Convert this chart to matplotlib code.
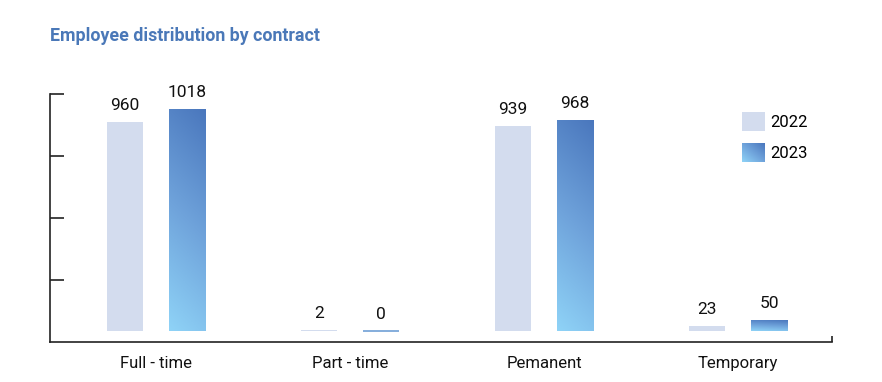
import numpy as np
import matplotlib
matplotlib.use("Agg")
import matplotlib.pyplot as plt
from matplotlib.colors import LinearSegmentedColormap
from matplotlib.legend_handler import HandlerBase
from matplotlib.image import BboxImage
from matplotlib.transforms import Bbox, TransformedBbox
from matplotlib.patches import Patch

plt.rcParams['font.family'] = ['Roboto', 'DejaVu Sans']

categories = ["Full - time", "Part - time", "Pemanent", "Temporary"]
years = ["2022", "2023"]
values_2022 = [960, 2, 939, 23]
values_2023 = [1018, 0, 968, 50]
title = "Employee distribution by contract"

c2022 = "#d3dcee"
cmap = LinearSegmentedColormap.from_list("blu", ["#8fd3f7", "#6fa3db", "#4a77bd"])

W, H = 882, 382
fig = plt.figure(figsize=(W/100, H/100), dpi=100)
ax = fig.add_axes([50/W, 1-341.7/H, (832-50)/W, (341.7-94)/H])

x = np.arange(len(categories))
bw = 0.186
off = 0.16
b1 = ax.bar(x - off, values_2022, bw, color=c2022, zorder=2)
b2 = ax.bar(x + off, values_2023, bw, color="none", zorder=2)

yy, xx = np.mgrid[0:1:200j, 0:1:50j]
grad = 0.85 * yy + 0.15 * xx
for bar, v in zip(b2, values_2023):
    bx, by = bar.get_xy()
    w, h = bar.get_width(), bar.get_height()
    if h > 0:
        ax.imshow(grad, extent=[bx, bx + w, by, by + h], origin='lower',
                  aspect='auto', cmap=cmap, vmin=0, vmax=1, zorder=2,
                  interpolation='bilinear')
    else:
        ax.hlines(by, bx, bx + w, color="#6f9fd6", lw=1.2, zorder=2)

for bars, vals in ((b1, values_2022), (b2, values_2023)):
    for bar, v in zip(bars, vals):
        ax.annotate(str(v), (bar.get_x() + bar.get_width()/2, bar.get_height()),
                    xytext=(0, 6.5), textcoords="offset points", ha="center",
                    va="bottom", fontsize=12.5, color="#111111")

ax.set_xlim(-0.548, 3.485)
ax.set_ylim(-50.5, 1086.8)
ax.set_xticks(x)
ax.set_xticklabels(categories, fontsize=12, color="#111111")
ax.tick_params(axis='x', length=0, pad=10)
ax.set_yticks([233, 519, 802, 1086.8])
ax.set_yticklabels([])
ax.tick_params(axis='y', direction='in', length=10, width=1.2, color="#222222")
for s in ("top", "right"):
    ax.spines[s].set_visible(False)
for s in ("left", "bottom"):
    ax.spines[s].set_linewidth(1.2)
    ax.spines[s].set_color("#222222")
ax.set_xticks([3.485], minor=True)
ax.tick_params(axis='x', which='minor', direction='in', length=4, width=1.2, color="#222222")


class GradHandler(HandlerBase):
    def create_artists(self, legend, orig_handle, xdescent, ydescent, width,
                       height, fontsize, trans):
        bb = Bbox.from_bounds(-xdescent, -ydescent, width, height)
        img = BboxImage(TransformedBbox(bb, trans), cmap=cmap, norm=plt.Normalize(0, 1),
                        interpolation='bilinear', origin='lower')
        gy, gx = np.mgrid[0:1:50j, 0:1:50j]
        img.set_data(0.5 * gy + 0.5 * gx)
        return [img]


h1 = Patch(facecolor=c2022, edgecolor="none")
h2 = Patch(facecolor="#5a8ccc", edgecolor="none")
leg = ax.legend([h1, h2], years, loc="upper left",
                bbox_to_anchor=(727/W, 1-97/H), bbox_transform=fig.transFigure,
                frameon=False, fontsize=12, handlelength=1.35, handleheight=1.35,
                handletextpad=0.34, labelspacing=0.73,
                handler_map={h2: GradHandler()})

fig.text(50/W, 1-36/H, title, fontsize=12.8, fontweight="bold", color="#4a78b8",
         ha="left", va="center")

fig.savefig("out.png", dpi=100)
